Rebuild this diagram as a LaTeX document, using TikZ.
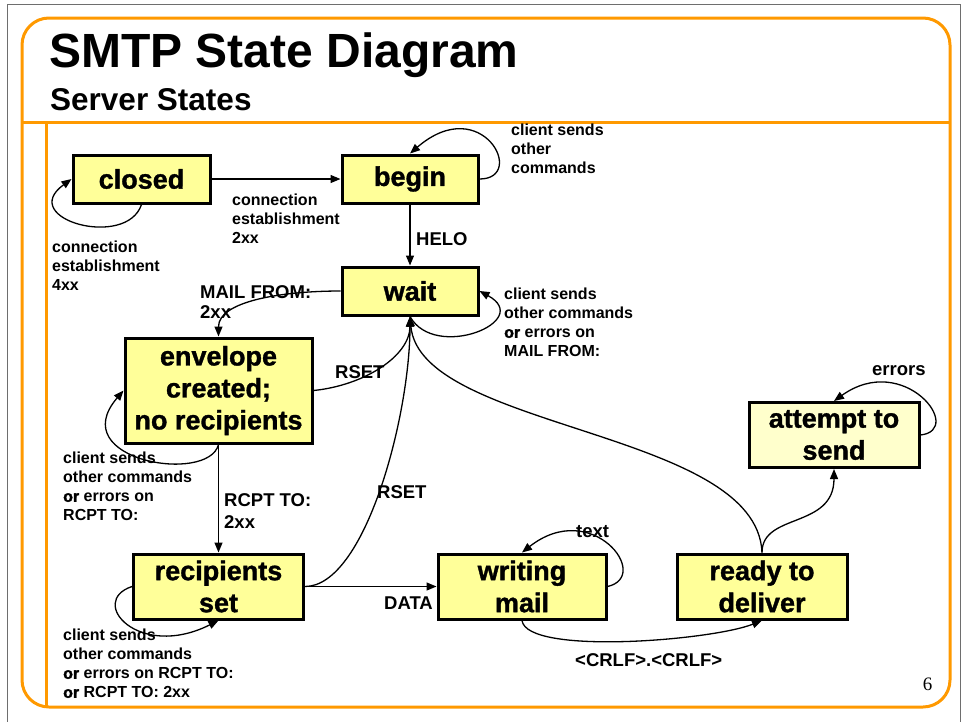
\documentclass[tikz,border=0pt]{standalone}
\usepackage{fontspec}
\setmainfont{Liberation Sans}
\newfontfamily\titlefont{Liberation Sans Bold}
\newfontfamily\boxfontfam{Liberation Sans Bold}[FakeBold=1.2]
\newfontfamily\lblfontfam{Liberation Sans Bold}
\newfontfamily\orfontfam{Liberation Sans Bold}[FakeBold=2]
\newfontfamily\numfontfam{Liberation Serif}
\usetikzlibrary{arrows.meta}
\definecolor{frameorange}{RGB}{255,153,0}
\definecolor{boxyellow}{RGB}{255,255,153}
\definecolor{boxpale}{RGB}{255,255,204}
\definecolor{framegray}{RGB}{110,110,110}
\newcommand\orword{{\orfontfam or}}
\begin{document}
\begin{tikzpicture}[x=1pt,y=-1pt,
  state/.style={draw=black, line width=3pt, fill=boxyellow, align=center, inner sep=0pt,
    font=\boxfontfam\fontsize{27}{32}\selectfont},
  lbl/.style={anchor=north west, align=left, inner sep=0pt,
    font=\lblfontfam\fontsize{16}{19}\selectfont},
  tlbl/.style={anchor=north west, align=left, inner sep=0pt,
    font=\lblfontfam\fontsize{18.5}{20.5}\selectfont},
  arr/.style={-{Triangle[length=10pt,width=8pt]}, line width=1.3pt},
  heading/.style={anchor=base west, inner sep=0pt}]
\useasboundingbox (0,0) rectangle (966,721);
% page frame
\draw[framegray, line width=1pt] (7,730) -- (7,4) -- (960,4) -- (960,730);
\draw[frameorange, line width=3pt, rounded corners=27pt] (22,18) rectangle (950,707);
\draw[frameorange, line width=3pt] (22,122.5) -- (950,122.5);
\draw[frameorange, line width=3pt] (46,122.5) -- (46,707);
% headings
\node[heading, font=\titlefont\fontsize{48}{48}\selectfont] (title) at (49,67) {SMTP State Diagram};
\node[heading, font=\titlefont\fontsize{31.5}{31.5}\selectfont] (subtitle) at (50,110) {Server States};
% states
\node[state, minimum width=137pt, minimum height=48pt] (closed) at (141.5,179) {closed};
\node[state, minimum width=136pt, minimum height=48pt] (begin) at (410,179) {begin};
\node[state, minimum width=136pt, minimum height=48pt] (wait) at (410,291) {wait};
\node[state, minimum width=187pt, minimum height=105pt] (envelope) at (218.5,390.5) {envelope\\created;\\no recipients};
\node[state, minimum width=170pt, minimum height=65pt] (recipients) at (218.5,586.5) {recipients\\set};
\node[state, minimum width=168pt, minimum height=65pt] (writing) at (522,586.5) {writing\\mail};
\node[state, minimum width=170pt, minimum height=65pt] (ready) at (762,586.5) {ready to\\deliver};
\node[state, fill=boxpale, minimum width=170pt, minimum height=65pt] (attempt) at (834,435) {attempt to\\send};
% connectors
\draw[arr] (closed.east) -- (begin.west);
\draw[arr] (closed.south) .. controls +(-15,45) and +(-55,40) .. (closed.west);
\draw[arr] (begin.east) .. controls +(48,0) and +(72,-62) .. (begin.north);
\draw[arr] (begin.south) -- (wait.north);
\draw[arr] (wait.south) .. controls +(25,45) and +(55,30) .. (wait.east);
\draw[arr] (wait.west) .. controls +(-60,0) and +(0,-35) .. (envelope.north);
\draw[arr] (envelope.east) .. controls +(50,-5) and +(0,40) .. (wait.south);
\draw[arr] (envelope.south) .. controls +(-10,40) and +(-60,70) .. (envelope.west);
\draw[arr] (envelope.south) -- (recipients.north);
\draw[arr] (recipients.east) .. controls +(60,0) and +(0,100) .. (wait.south);
\draw[arr] (recipients.east) -- (writing.west);
\draw[arr] (recipients.west) .. controls +(-45,15) and +(-80,40) .. (recipients.south);
\draw[arr] (writing.east) .. controls +(45,-10) and +(70,-55) .. (writing.north);
\draw[arr] (writing.south) .. controls +(5,35) and +(-50,20) .. (ready.south);
\draw[arr] (ready.north) .. controls (757,430) and (420,430) .. (wait.south);
\draw[arr] (ready.north) .. controls +(0,-40) and +(0,60) .. (attempt.south);
\draw[arr] (attempt.east) .. controls +(45,-5) and +(70,-50) .. (attempt.north);
% labels
\node[lbl] (lbsel) at (511,124) {client sends\\other\\commands};
\node[lbl] (lce2) at (232,194) {connection\\establishment\\2xx};
\node[lbl] (lce4) at (52,241) {connection\\establishment\\4xx};
\node[tlbl] (lhelo) at (416,232) {HELO};
\node[tlbl] (lmail) at (200,285) {MAIL FROM:\\2xx};
\node[lbl] (lwsel) at (504,288) {client sends\\other commands\\\orword{} errors on\\MAIL FROM:};
\node[tlbl] (lrset1) at (335,365) {RSET};
\node[lbl] (lesel) at (63,452) {client sends\\other commands\\\orword{} errors on\\RCPT TO:};
\node[tlbl] (lrcpt) at (224,493) {RCPT TO:\\[1.5pt]2xx};
\node[tlbl] (lrset2) at (377,485) {RSET};
\node[tlbl] (ltext) at (576,525) {text};
\node[tlbl] (ldata) at (384,597) {DATA};
\node[lbl] (lrsel) at (63,629) {client sends\\other commands\\\orword{} errors on RCPT TO:\\\orword{} RCPT TO: 2xx};
\node[tlbl] (lcrlf) at (575,653) {<CRLF>.<CRLF>};
\node[tlbl] (lerrors) at (872,365) {errors};
\node[inner sep=0pt, font=\numfontfam\fontsize{19}{19}\selectfont] (pagenum) at (927.5,684) {6};
\end{tikzpicture}
\end{document}
